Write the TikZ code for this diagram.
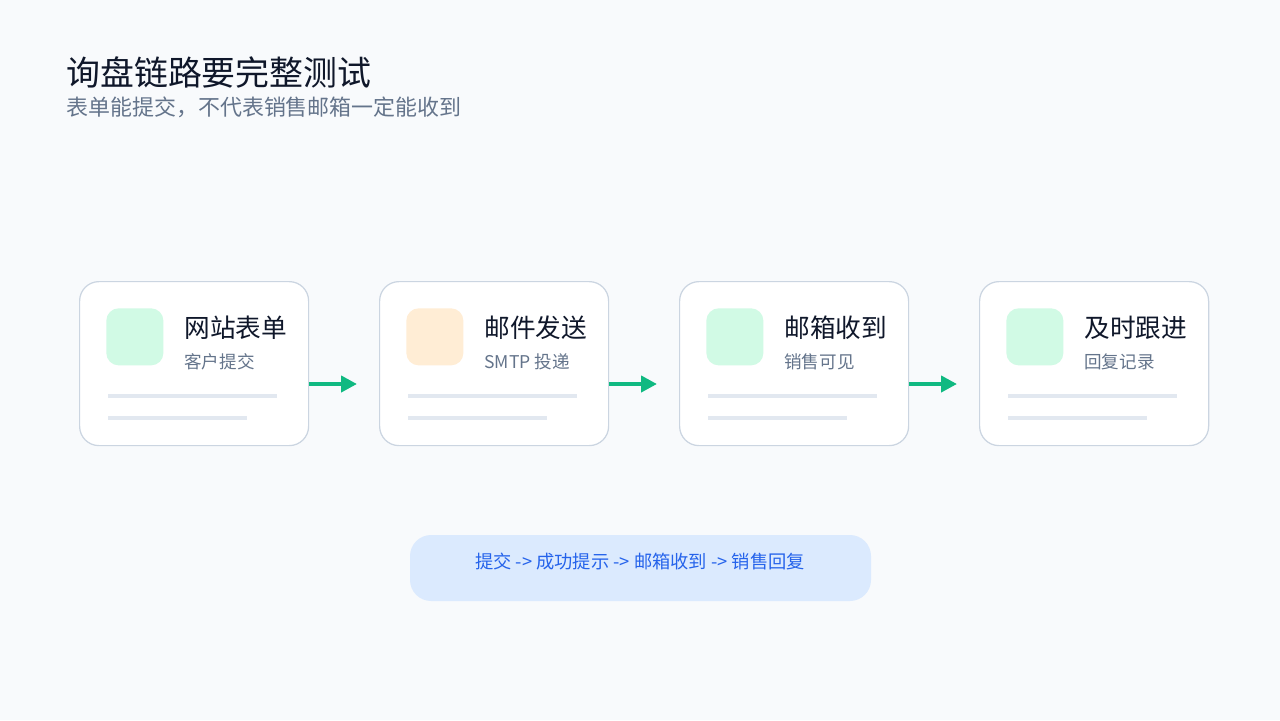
\documentclass[tikz,border=0pt]{standalone}
\usepackage{fontspec}
\setmainfont{Noto Sans CJK SC}
\usetikzlibrary{positioning,calc,arrows.meta}
\definecolor{PageBg}{HTML}{F8FAFC}
\definecolor{InkDark}{HTML}{0F172A}
\definecolor{InkGray}{HTML}{64748B}
\definecolor{CardLine}{HTML}{CBD5E1}
\definecolor{BarGray}{HTML}{E2E8F0}
\definecolor{IconGreen}{HTML}{D1FAE5}
\definecolor{IconOrange}{HTML}{FFEDD5}
\definecolor{FlowGreen}{HTML}{10B981}
\definecolor{PillBlue}{HTML}{DBEAFE}
\definecolor{PillText}{HTML}{2563EB}
\tikzset{
    card/.style={rectangle, draw=CardLine, fill=white, line width=0.7pt, rounded corners=11pt, minimum width=229*0.02cm, minimum height=164*0.02cm, anchor=north west, inner sep=0pt},
    icon/.style={rectangle, rounded corners=7pt, minimum size=57*0.02cm, inner sep=0pt, anchor=north west},
    cardtitle/.style={anchor=west, inner sep=0pt, font=\fontsize{14.6}{16}\selectfont, text=InkDark},
    cardsub/.style={anchor=west, inner sep=0pt, font=\fontsize{10}{12}\selectfont, text=InkGray},
    bar/.style={BarGray, line width=2.3pt},
    flow/.style={FlowGreen, line width=2.3pt, -{Triangle[length=9pt,width=9pt]}}
}
\begin{document}
\begin{tikzpicture}[x=0.02cm, y=-0.02cm]
    \fill[PageBg] (0,0) rectangle (1280,720);
    \useasboundingbox (0,0) rectangle (1280,720);

    % --- Heading ---
    \node[anchor=west, inner sep=0pt, font=\fontsize{19.3}{22}\selectfont, text=InkDark] (head) at (66,72) {询盘链路要完整测试};
    \node[anchor=west, inner sep=0pt, font=\fontsize{12.5}{14}\selectfont, text=InkGray] (subhead) at (66,107) {表单能提交，不代表销售邮箱一定能收到};

    % --- Cards ---
    \foreach \i/\ttl/\sub/\col in {1/网站表单/客户提交/IconGreen, 2/邮件发送/SMTP 投递/IconOrange, 3/邮箱收到/销售可见/IconGreen, 4/及时跟进/回复记录/IconGreen} {
        \pgfmathsetmacro{\xo}{79+300*(\i-1)}
        \node[card] (card\i) at (\xo,281) {};
        \node[icon, fill=\col] (icon\i) at (\xo+27,308) {};
        \node[cardtitle] (title\i) at (\xo+105,328) {\ttl};
        \node[cardsub] (sub\i) at (\xo+105,362) {\sub};
        \draw[bar] (\xo+29,396) -- (\xo+198,396);
        \draw[bar] (\xo+29,418) -- (\xo+168,418);
    }

    % --- Arrows ---
    \foreach \a/\b in {1/2, 2/3, 3/4} {
        \draw[flow, shorten >=22*0.02cm] (card\a.east |- 0,384) -- (card\b.west |- 0,384);
    }

    % --- Pill ---
    \node[rectangle, fill=PillBlue, rounded corners=12pt, minimum width=461*0.02cm, minimum height=66*0.02cm] (pill) at (640.5,568) {};
    \node[inner sep=0pt, text=PillText, font=\fontsize{10.4}{12}\selectfont] (pilltext) at (640,562) {提交 -> 成功提示 -> 邮箱收到 -> 销售回复};
\end{tikzpicture}
\end{document}
